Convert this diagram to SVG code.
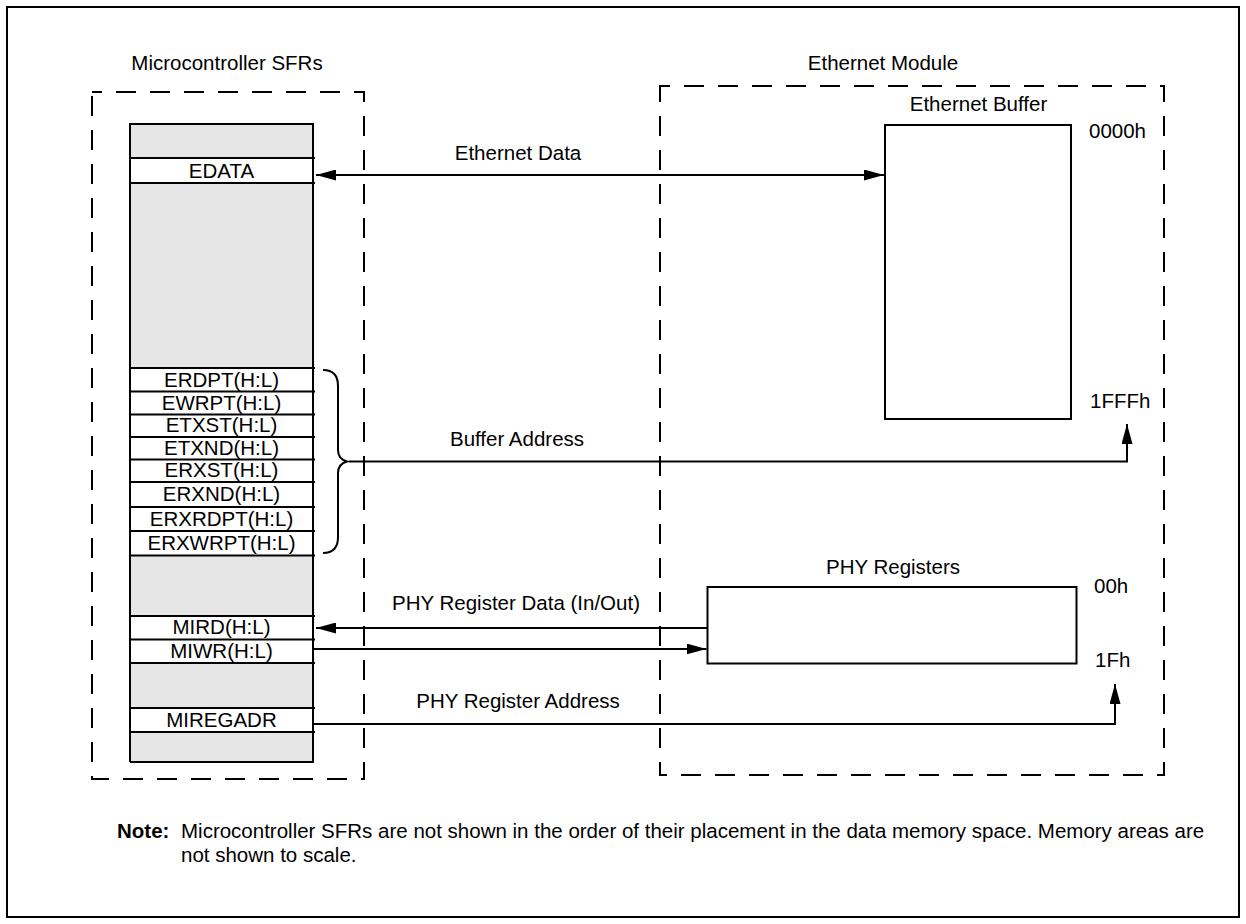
<svg xmlns="http://www.w3.org/2000/svg" width="1246" height="924" viewBox="0 0 1246 924">
<style>
text{font-family:"Liberation Sans",Arial,sans-serif;font-size:20.5px;fill:#000}
.c{text-anchor:middle}
.b{font-weight:bold}
.ln{stroke:#000;stroke-width:2;fill:none}
.dash{stroke:#000;stroke-width:2;fill:none;stroke-dasharray:20 14}
.gray{fill:#e6e6e6}
.row{fill:#fff}
</style>
<defs>
<marker id="ah" viewBox="0 0 20 11" refX="20" refY="5.5" markerWidth="20" markerHeight="11" markerUnits="userSpaceOnUse" orient="auto">
<path d="M0,0 L20,5.5 L0,11 Z" fill="#000"/>
</marker>
<marker id="ahs" viewBox="0 0 20 11" refX="20" refY="5.5" markerWidth="20" markerHeight="11" markerUnits="userSpaceOnUse" orient="auto-start-reverse">
<path d="M0,0 L20,5.5 L0,11 Z" fill="#000"/>
</marker>
</defs>
<rect x="0" y="0" width="1246" height="924" fill="#fff"/>
<rect x="7" y="7" width="1232" height="910" fill="none" stroke="#000" stroke-width="2"/>

<g id="mcu-sfrs">
<text class="c" x="227" y="70">Microcontroller SFRs</text>
<path class="dash" d="M92,92 H364 V779 H92 Z" stroke-dashoffset="10"/>
<g id="sfr-column">
<rect class="gray" x="130" y="124" width="183" height="638"/>
<rect class="row" x="130" y="158" width="183" height="25"/>
<rect class="row" x="130" y="368" width="183" height="187.5"/>
<rect class="row" x="130" y="616" width="183" height="47"/>
<rect class="row" x="130" y="708" width="183" height="24"/>
<path class="ln" d="M130,762 V124 H313 V762 H130"/>
<path class="ln" d="M130,158 H315 M130,183 H315 M130,368 H315 M130,391.5 H315 M130,414.5 H315 M130,437 H315 M130,459.5 H315 M130,482 H315 M130,507 H315 M130,531 H315 M130,555.5 H315 M130,616 H315 M130,639.5 H315 M130,663 H315 M130,708 H315 M130,732 H315"/>
<text class="c" x="221.5" y="178">EDATA</text>
<text class="c" x="221.5" y="386.5">ERDPT(H:L)</text>
<text class="c" x="221.5" y="409.5">EWRPT(H:L)</text>
<text class="c" x="221.5" y="432">ETXST(H:L)</text>
<text class="c" x="221.5" y="454.5">ETXND(H:L)</text>
<text class="c" x="221.5" y="477">ERXST(H:L)</text>
<text class="c" x="221.5" y="501">ERXND(H:L)</text>
<text class="c" x="221.5" y="525.5">ERXRDPT(H:L)</text>
<text class="c" x="221.5" y="550">ERXWRPT(H:L)</text>
<text class="c" x="221.5" y="634">MIRD(H:L)</text>
<text class="c" x="221.5" y="657.5">MIWR(H:L)</text>
<text class="c" x="221.5" y="727">MIREGADR</text>
</g>
<path id="brace" class="ln" d="M323,370 Q338,370 338,386 V450 Q338,459 347,461.5 Q338,464 338,473 V537 Q338,553 323,553"/>
</g>

<g id="ethernet-module">
<text class="c" x="883" y="70">Ethernet Module</text>
<path class="dash" d="M660,86 H1164 V775 H660 Z" stroke-dashoffset="10"/>
</g>

<g id="ethernet-buffer">
<text class="c" x="978.5" y="111">Ethernet Buffer</text>
<rect x="885" y="125" width="186" height="294" fill="#fff" stroke="#000" stroke-width="2"/>
<text x="1089" y="138">0000h</text>
<text x="1090" y="408">1FFFh</text>
</g>

<g id="phy-registers">
<text class="c" x="893" y="574">PHY Registers</text>
<rect x="707.5" y="587" width="369" height="76.5" fill="#fff" stroke="#000" stroke-width="2"/>
<text x="1094" y="593">00h</text>
<text x="1095" y="667">1Fh</text>
</g>

<g id="connectors">
<line class="ln" x1="316" y1="175" x2="884" y2="175" marker-start="url(#ahs)" marker-end="url(#ah)"/>
<text class="c" x="518" y="160">Ethernet Data</text>
<path class="ln" d="M349,461.5 H1127 V424" marker-end="url(#ah)"/>
<text class="c" x="517" y="446">Buffer Address</text>
<path class="ln" d="M707.5,628 H316" marker-end="url(#ah)"/>
<text class="c" x="516" y="610">PHY Register Data (In/Out)</text>
<path class="ln" d="M314,649 H706.5" marker-end="url(#ah)"/>
<path class="ln" d="M314,724 H1115 V684" marker-end="url(#ah)"/>
<text class="c" x="518" y="708">PHY Register Address</text>
</g>

<g id="note">
<text class="b" x="117" y="838">Note:</text>
<text x="181" y="838">Microcontroller SFRs are not shown in the order of their placement in the data memory space. Memory areas are</text>
<text x="181" y="862">not shown to scale.</text>
</g>
</svg>
